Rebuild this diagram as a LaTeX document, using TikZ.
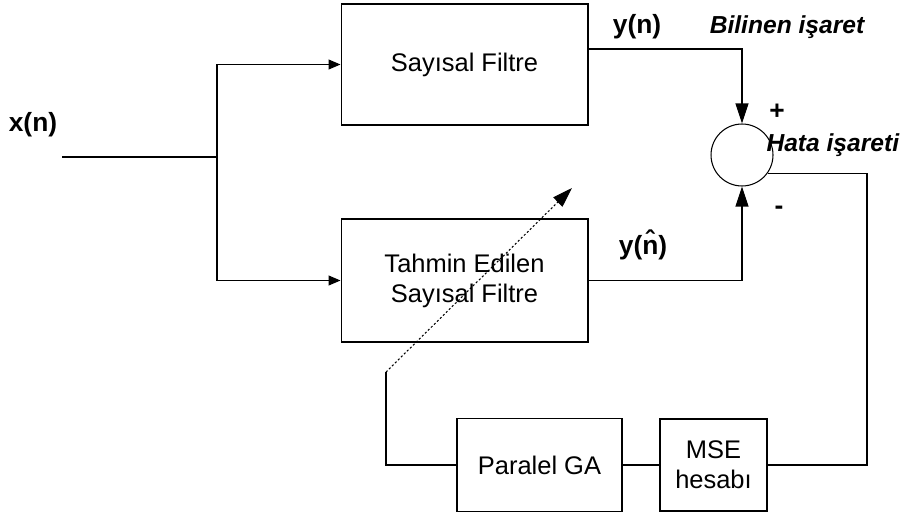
\documentclass[tikz,border=0pt]{standalone}
\usepackage{fontspec}
\setmainfont{Liberation Sans}
\usetikzlibrary{calc,arrows.meta,positioning}

\tikzset{
  blok/.style = {draw, line width = 0.6pt, inner sep = 0pt, align = center,
                 font = \fontsize{14.5}{17}\selectfont},
  etiket/.style = {inner sep = 0pt, font = \fontsize{15}{18}\selectfont\bfseries},
  oku/.style = {-{Triangle[length = 0.24cm, width = 0.2cm]}},
  buyukok/.style = {-{Triangle[length = 0.4cm, width = 0.26cm]}},
}

\begin{document}
\begin{tikzpicture}[x = 0.02cm, y = -0.02cm, line width = 0.6pt]
            \useasboundingbox (0,0) rectangle (916,517);
            % filtreler
            \node[blok, minimum width = 4.94cm, minimum height = 2.42cm](filt)at(464.5,64.5){Sayısal Filtre};
            \node[blok, minimum width = 4.94cm, minimum height = 2.46cm](est)at(464.5,280.5){Tahmin Edilen\\Sayısal Filtre};
            % toplayici
            \node[draw, circle, minimum size = 1.24cm, inner sep = 0pt](sum)at(742,155){};
            % alt bloklar
            \node[blok, minimum width = 3.3cm, minimum height = 1.86cm](ga)at(539.5,465){Paralel GA};
            \node[blok, minimum width = 2.14cm, minimum height = 1.84cm](mse)at(713.5,465){MSE\\hesabı};
            % giris
            \coordinate(in)at(62,157);
            \coordinate(split)at(217,157);
            \path[draw](in)--(split);
            \path[draw, oku](split)|-(filt.west);
            \path[draw, oku](split)|-(est.west);
            % cikislar
            \coordinate(yout)at(588,49);
            \path[draw, buyukok](yout)-|(sum.north);
            \path[draw, buyukok](est.east)-|(sum.south);
            % hata geri besleme
            \coordinate(ret)at(867,465);
            \path[draw](sum.-35)-|(ret)--(mse.east);
            \path[draw](mse.west)--(ga.east);
            \coordinate(fb)at(386,372);
            \coordinate(tip)at(572,188);
            \path[draw](ga.west)-|(fb);
            \path[draw, dash pattern = on 1.2pt off 1.2pt, buyukok](fb)--(tip);
            % etiketler
            \node[etiket](xn)at(33,125){x(n)};
            \node[etiket](yn)at(637,27){y(n)};
            \node[etiket, font = \fontsize{14}{17}\selectfont\bfseries\itshape](bil)at(787,27){Bilinen işaret};
            \node[etiket](plus)at(777,112){+};
            \node[etiket](minus)at(779,210){-};
            \node[etiket, anchor = west, font = \fontsize{14}{17}\selectfont\bfseries\itshape](hata)at(766,145){Hata işareti};
            \node[etiket](yhat)at(643,245){y(\^{n})};
        \end{tikzpicture}
\end{document}
